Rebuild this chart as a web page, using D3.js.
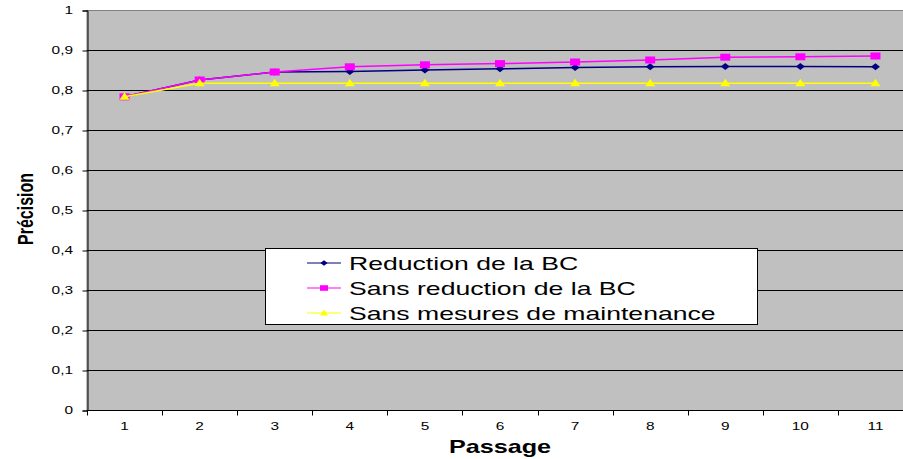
<!DOCTYPE html>
<html>
<head>
<meta charset="utf-8">
<script src="https://cdn.jsdelivr.net/npm/d3@7"></script>
<style>
body { margin: 0; background: #fff; }
svg { display: block; font-family: "Liberation Sans", Arial, sans-serif; }
</style>
</head>
<body>
<svg id="chart" width="903" height="459"></svg>
<script>
// Passages on the x axis
var passages = ["1", "2", "3", "4", "5", "6", "7", "8", "9", "10", "11"];

// series values
var reduction = [0.783, 0.825, 0.845, 0.846, 0.850, 0.853, 0.856, 0.858, 0.859, 0.859, 0.858];
var sansReduction = [0.783, 0.825, 0.845, 0.858, 0.863, 0.866, 0.870, 0.875, 0.882, 0.883, 0.885];
var sansMaintenance = [0.783, 0.817, 0.817, 0.817, 0.817, 0.817, 0.817, 0.817, 0.817, 0.817, 0.817];

var seriesNames = ["Reduction de la BC", "Sans reduction de la BC", "Sans mesures de maintenance"];
var yTicks = [0, 0.1, 0.2, 0.3, 0.4, 0.5, 0.6, 0.7, 0.8, 0.9, 1];

var svg = d3.select("#chart");
// plot area (right side runs past the window edge, as in the original)
var plotL = 87, plotT = 10, plotR = 913, plotB = 410;
// the original chart was stretched sideways, text included
var stretch = 1.4;

var x = d3.scaleBand().domain(passages).range([plotL, plotR]);
var y = d3.scaleLinear().domain([0, 1]).range([plotB, plotT]);

function wideText(parent, tx, ty, str, size, anchor, bold) {
	return parent.append("text")
		.attr("transform", "translate(" + tx + "," + ty + ") scale(" + stretch + ",1)")
		.attr("text-anchor", anchor)
		.attr("font-size", size)
		.attr("font-weight", bold ? "bold" : null)
		.attr("fill", "#000")
		.text(str);
}

// plot background
svg.append("rect")
	.attr("x", plotL).attr("y", plotT + 0.5)
	.attr("width", plotR - plotL).attr("height", plotB - plotT)
	.attr("fill", "#c0c0c0")
	.attr("stroke", "#808080");

// gridlines
svg.append("g").selectAll("line")
	.data(yTicks.slice(1, -1))
	.join("line")
	.attr("x1", plotL).attr("x2", plotR)
	.attr("y1", d => Math.round(y(d)) + 0.5)
	.attr("y2", d => Math.round(y(d)) + 0.5)
	.attr("stroke", "#000").attr("stroke-width", 1);

// y axis
var fmt = d => d === 0 ? "0" : d === 1 ? "1" : d3.format(".1f")(d).replace(".", ",");
var yAxis = svg.append("g")
	.attr("transform", "translate(" + (plotL + 0.5) + ",0.5)")
	.call(d3.axisLeft(y).tickValues(yTicks).tickFormat("").tickSize(5));
yAxis.select(".domain").attr("stroke", "#000");
var yLab = svg.append("g");
yTicks.forEach(function(t) {
	wideText(yLab, 73, y(t) + 4, fmt(t), 11, "end", false);
});

// x axis: ticks at band boundaries
var xAxis = svg.append("g")
	.attr("transform", "translate(0," + (plotB + 0.5) + ")");
xAxis.append("line")
	.attr("x1", plotL).attr("x2", plotR)
	.attr("stroke", "#000");
xAxis.selectAll(".tk")
	.data(passages)
	.join("line")
	.attr("class", "tk")
	.attr("x1", d => Math.round(x(d)) + 0.5)
	.attr("x2", d => Math.round(x(d)) + 0.5)
	.attr("y1", 0).attr("y2", 5)
	.attr("stroke", "#000");
passages.forEach(function(p) {
	wideText(xAxis, x(p) + x.bandwidth() / 2, 19.5, p, 11, "middle", false);
});

// axis titles
wideText(svg, 500, 453, "Passage", 18, "middle", true);
svg.append("text")
	.attr("transform", "translate(33,209) scale(" + stretch + ",1) rotate(-90)")
	.attr("text-anchor", "middle")
	.attr("font-size", 16).attr("font-weight", "bold")
	.text("Précision");

var series = [
	{ name: seriesNames[0], values: reduction, color: "#000080", marker: "diamond" },
	{ name: seriesNames[1], values: sansReduction, color: "#ff00ff", marker: "square" },
	{ name: seriesNames[2], values: sansMaintenance, color: "#ffff00", marker: "triangle" }
];

var cx = d => x(d) + x.bandwidth() / 2;
var line = d3.line().x((d, i) => cx(passages[i])).y(d => y(d));

function markerPath(kind) {
	if (kind === "diamond") return "M0,-3.5L4.5,0L0,3.5L-4.5,0Z";
	if (kind === "square") return "M-5,-3.5H5V3.5H-5Z";
	return "M0,-4.5L5,3H-5Z";
}

// navy first, then magenta, then yellow on top (yellow triangle shows at passage 1)
[0, 1, 2].forEach(function(k) {
	var s = series[k];
	var g = svg.append("g");
	g.append("path")
		.attr("d", line(s.values))
		.attr("fill", "none")
		.attr("stroke", s.color)
		.attr("stroke-width", 1.5);
	g.selectAll("path.m")
		.data(s.values)
		.join("path")
		.attr("class", "m")
		.attr("transform", (d, i) => "translate(" + cx(passages[i]) + "," + y(d) + ")")
		.attr("d", markerPath(s.marker))
		.attr("fill", s.color);
});

// legend
var lg = svg.append("g");
lg.append("rect")
	.attr("x", 265.5).attr("y", 248.5)
	.attr("width", 492).attr("height", 76)
	.attr("fill", "#fff").attr("stroke", "#000");
series.forEach(function(s, i) {
	var ly = 263 + i * 25;
	lg.append("line")
		.attr("x1", 307).attr("x2", 341)
		.attr("y1", ly).attr("y2", ly)
		.attr("stroke", s.color).attr("stroke-width", 1.2);
	lg.append("path")
		.attr("transform", "translate(324," + ly + ") scale(0.8)")
		.attr("d", markerPath(s.marker))
		.attr("fill", s.color);
	wideText(lg, 349, ly + 7, s.name, 19, "start", false);
});
</script>
</body>
</html>
